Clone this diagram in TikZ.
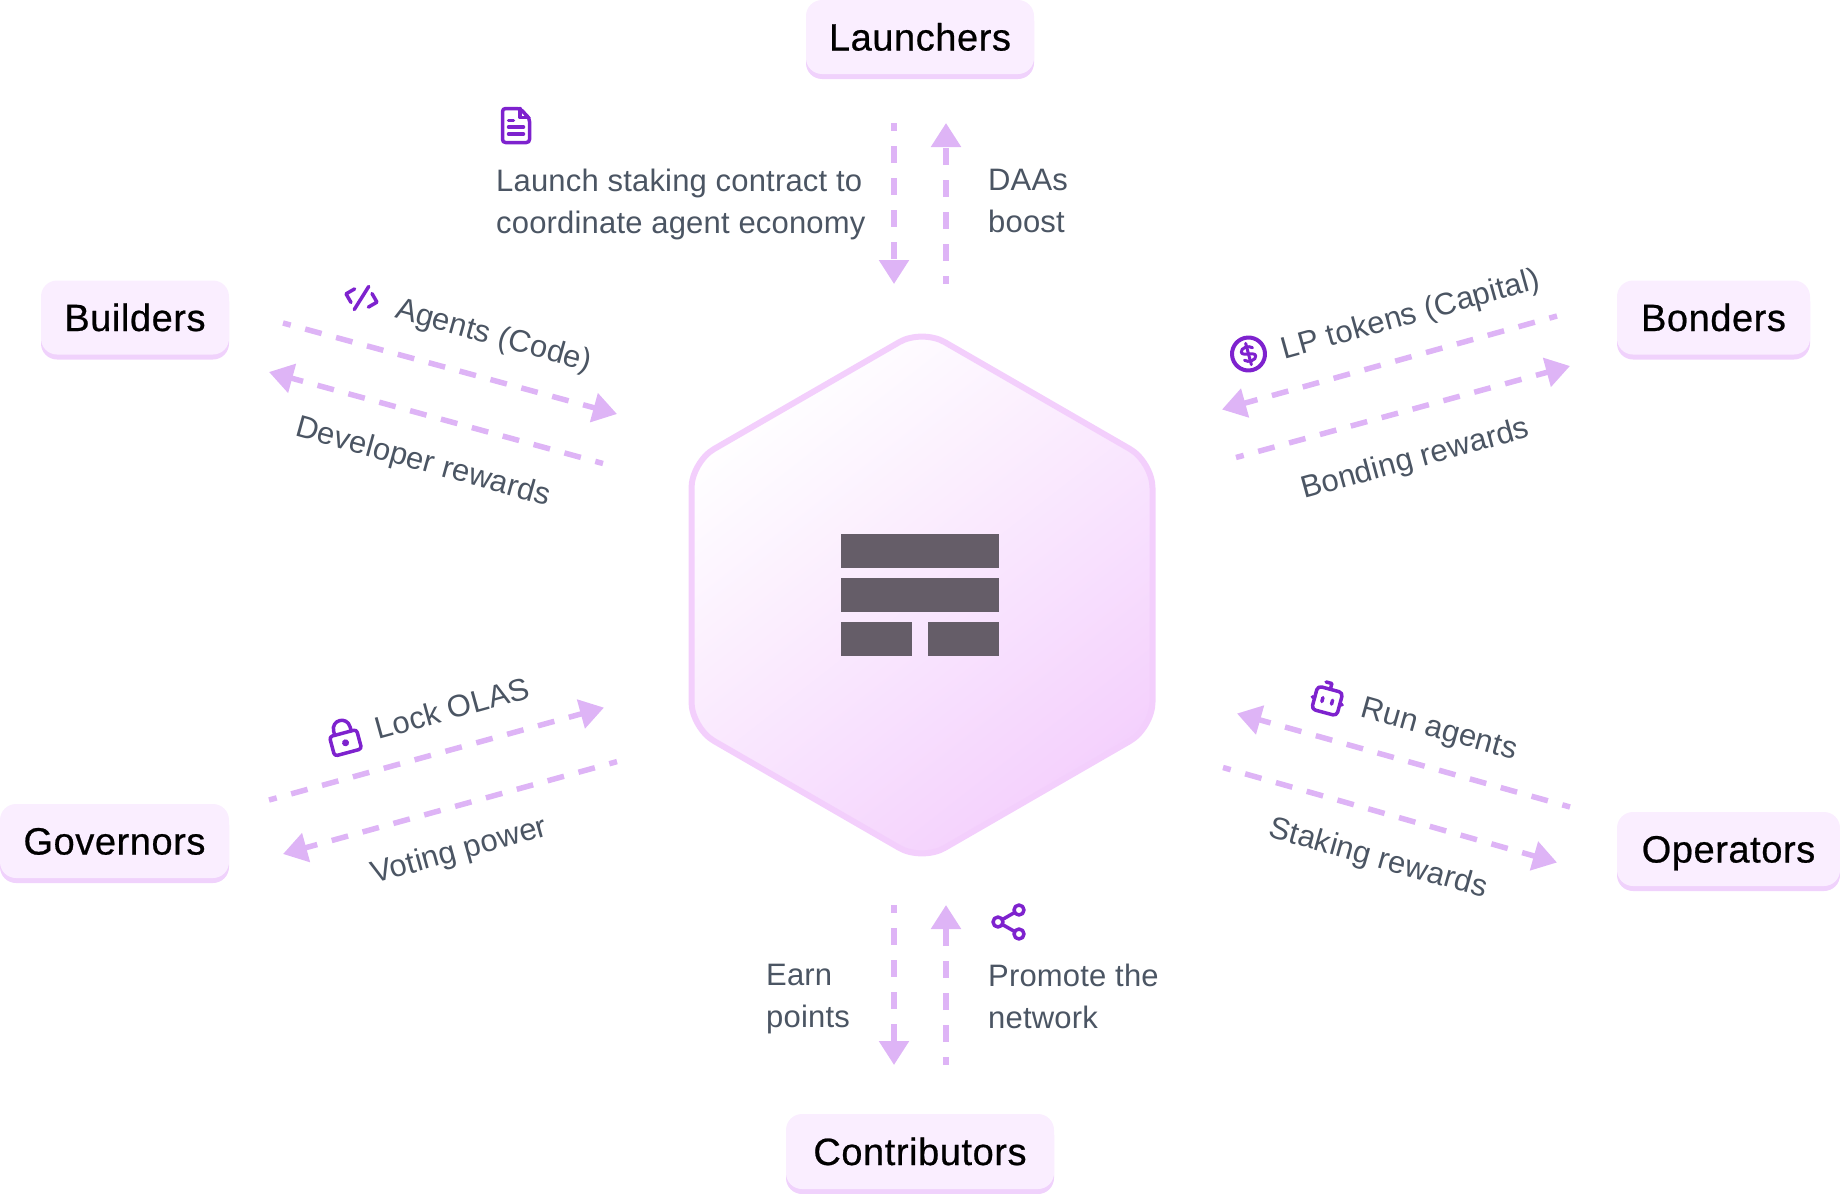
\documentclass[tikz,border=0pt]{standalone}
\usepackage{fontspec}
\setmainfont{Liberation Sans}[LetterSpace=0.6]
\newfontfamily\labfont{Liberation Sans}[FakeBold=0.6,LetterSpace=1.5]
\usetikzlibrary{arrows.meta,shadows}
\definecolor{boxfill}{HTML}{FAEEFF}
\definecolor{boxband}{HTML}{F0D2FC}
\definecolor{flow}{HTML}{DEB4F6}
\definecolor{iconc}{HTML}{7E22CE}
\definecolor{txt}{HTML}{4B5563}
\definecolor{hexline}{HTML}{F3CFFC}
\definecolor{hexend}{HTML}{F4D0FD}
\definecolor{barc}{HTML}{655D68}
\tikzset{
  actor/.style={rectangle,rounded corners=16pt,fill=boxfill,inner sep=0pt,
    general shadow={fill=boxband,shadow yshift=-5pt},
    text=black,font=\labfont\fontsize{38}{42}\selectfont,text height=27pt,text depth=0pt},
  flowline/.style={draw=flow,line width=5.5pt,dash pattern=on 17pt off 15pt,dash phase=9pt,
    -{Triangle[length=24pt,width=29pt]}},
  note/.style={text=txt,font=\fontsize{31}{42}\selectfont,inner sep=0pt},
  multi/.style={note,align=left,anchor=west},
  ico/.style={draw=iconc,line width=3.5pt,line cap=round,line join=round},
  barshape/.style={fill=barc}
}
\begin{document}
\begin{tikzpicture}[x=1pt,y=-1pt]
\useasboundingbox (0,0) rectangle (1840,1194);
% hexagon
\coordinate (h1) at (922,329);
\coordinate (h2) at (1152.5,462);
\coordinate (h3) at (1152.5,728);
\coordinate (h4) at (922,861);
\coordinate (h5) at (691.5,728);
\coordinate (h6) at (691.5,462);
\path[draw=hexline,line width=6pt,rounded corners=26pt,top color=white,bottom color=hexend,shading angle=38]
  (h1)--(h2)--(h3)--(h4)--(h5)--(h6)--cycle;
% central mark
\fill[barshape] (841,534) rectangle (998.7,568);
\fill[barshape] (841,578) rectangle (998.7,612);
\fill[barshape] (841,622) rectangle (911.5,656);
\fill[barshape] (928.3,622) rectangle (998.7,656);
% actors
\node[actor,minimum width=228pt,minimum height=74pt] (launchers) at (920,37) {Launchers};
\node[actor,minimum width=188pt,minimum height=74pt] (builders) at (135,317.5) {Builders};
\node[actor,minimum width=193pt,minimum height=74pt] (bonders) at (1713.5,317.5) {Bonders};
\node[actor,minimum width=229pt,minimum height=74pt] (governors) at (114.5,841) {Governors};
\node[actor,minimum width=223pt,minimum height=74pt] (operators) at (1728.5,849) {Operators};
\node[actor,minimum width=268pt,minimum height=75pt] (contributors) at (920,1151.5) {Contributors};
% flow ends
\coordinate (l1a) at (894,123);  \coordinate (l1b) at (894,284);
\coordinate (l2a) at (946,284);  \coordinate (l2b) at (946,123);
\coordinate (b1a) at (283,323);  \coordinate (b1b) at (617,414);
\coordinate (b2a) at (603,463.5);\coordinate (b2b) at (269,372);
\coordinate (o1a) at (1557,316); \coordinate (o1b) at (1222,409.5);
\coordinate (o2a) at (1236,457.5);\coordinate (o2b) at (1570,366);
\coordinate (g1a) at (269,800);  \coordinate (g1b) at (604,707.6);
\coordinate (g2a) at (617,761.6);\coordinate (g2b) at (283,854);
\coordinate (r1a) at (1570,807); \coordinate (r1b) at (1237,713.5);
\coordinate (r2a) at (1223,767.5);\coordinate (r2b) at (1557,862.5);
\coordinate (c1a) at (894,905);  \coordinate (c1b) at (894,1065);
\coordinate (c2a) at (946,1065); \coordinate (c2b) at (946,905);
\foreach \p in {l1,l2,b1,b2,o1,o2,g1,g2,r1,r2,c1,c2}{\draw[flowline] (\p a) -- (\p b);}
% labels
\node[multi] (tlaunch) at (496,204.5) {Launch staking contract to\\coordinate agent economy};
\node[multi] (tdaas) at (988,201) {DAAs\\boost};
\node[multi] (tearn) at (766,999.5) {Earn\\points};
\node[multi] (tprom) at (988,996.5) {Promote the\\network};
\node[note,rotate=-15.5] (tagents) at (493.5,337) {Agents (Code)};
\node[note,rotate=-15.5] (tdev) at (423,463) {Developer rewards};
\node[note,rotate=15.5] (tlp) at (1411,316) {LP tokens (Capital)};
\node[note,rotate=15.3] (tbond) at (1415.5,460) {Bonding rewards};
\node[note,rotate=15.5] (tlock) at (452,708) {Lock OLAS};
\node[note,rotate=15.5] (tvote) at (459.5,852) {Voting power};
\node[note,rotate=-15.7] (trun) at (1439,731) {Run agents};
\node[note,rotate=-15.7] (tstake) at (1378,859.5) {Staking rewards};
% document icon
\begin{scope}[shift={(516,125.5)},ico]
  \draw[rounded corners=3pt] (-13.5,-17)--(4,-17)--(13.5,-7)--(13.5,17)--(-13.5,17)--cycle;
  \draw (4,-17)--(4,-8)--(13,-8);
  \draw (-7.5,-5)--(-2.5,-5);
  \draw (-7.5,1.5)--(7.5,1.5);
  \draw (-7.5,8.5)--(7.5,8.5);
\end{scope}
% code icon
\begin{scope}[shift={(361.5,298)},rotate=-15,ico]
  \draw (-9,-7)--(-16,0)--(-9,7);
  \draw (9,-7)--(16,0)--(9,7);
  \draw (4,-13)--(-4,13);
\end{scope}
% dollar icon
\begin{scope}[shift={(1248.5,354)},rotate=15,ico]
  \draw[line width=4pt] (0,0) circle[radius=16.5pt];
  \draw[line width=3pt] (5.5,-5) .. controls (3,-8.5) and (-6.5,-8) .. (-6.5,-3.5) .. controls (-6.5,1) and (6.5,-1) .. (6.5,3.5) .. controls (6.5,8) and (-3,8.5) .. (-5.5,5);
  \draw[line width=3pt] (0,-11)--(0,11);
\end{scope}
% lock icon
\begin{scope}[shift={(344,737)},rotate=15,ico]
  \draw[rounded corners=3pt] (-14,-4) rectangle (14,16);
  \draw (-8.5,-4)--(-8.5,-8) .. controls (-8.5,-20) and (8.5,-20) .. (8.5,-8)--(8.5,-4);
  \fill[iconc,draw=none] (0,6) circle[radius=3.5pt];
\end{scope}
% robot icon
\begin{scope}[shift={(1328,698)},rotate=-15,ico]
  \draw[rounded corners=4pt] (-13,-9) rectangle (13,15);
  \draw (0,-9)--(0,-15)--(-6,-15);
  \draw (-15.5,3)--(-13,3);
  \draw (13,3)--(15.5,3);
  \draw (-5,1)--(-5,5);
  \draw (5,1)--(5,5);
\end{scope}
% share icon
\begin{scope}[shift={(1009,922)},ico]
  \draw (-11,0) circle[radius=5pt];
  \draw (10,-12) circle[radius=5pt];
  \draw (10,12) circle[radius=5pt];
  \draw (-6.6,-2.5)--(5.6,-9.5);
  \draw (-6.6,2.5)--(5.6,9.5);
\end{scope}
\end{tikzpicture}
\end{document}
